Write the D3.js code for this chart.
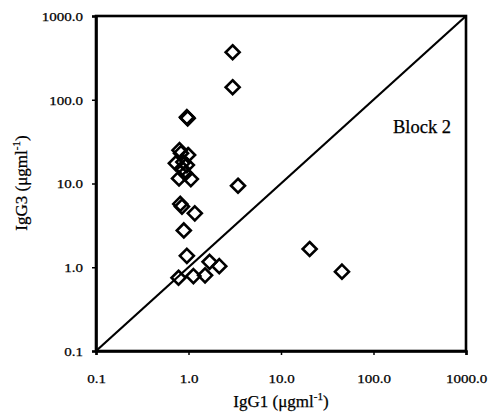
<!DOCTYPE html>
<html><head><meta charset="utf-8">
<script src="https://cdn.jsdelivr.net/npm/d3@7"></script>
<style>body{margin:0;background:#fff}svg text{font-family:"Liberation Serif","Times New Roman",serif;fill:#000;stroke:#000;stroke-width:0.25}</style>
</head><body><svg id="c" width="489" height="418"></svg>
<script>
const igg1 = [3.0, 3.0, 0.96, 0.98, 3.43, 20.4, 45.6, 1.17, 0.89, 0.96, 0.78, 1.13, 1.51, 1.69, 2.15, 0.815, 0.85,
              0.80, 0.83, 0.99, 0.73, 0.96, 0.85, 0.92, 0.79, 1.06, 0.88];
const igg3 = [369, 141, 62, 60, 9.4, 1.65, 0.885, 4.4, 2.75, 1.37, 0.75, 0.785, 0.80, 1.16, 1.03, 5.7, 5.3,
              25, 23, 21.9, 17.4, 16.6, 15.1, 13.2, 11.5, 11.3, 18];
const tickValues = [0.1, 1, 10, 100, 1000];
const tickLabels = ["0.1", "1.0", "10.0", "100.0", "1000.0"];
const yTickLabels = ["0.1", "1.0", "10.0", "100.0", "1000.0"];
const lineEnds = [0.1, 1000];

const svg = d3.select("#c");
const x = d3.scaleLog().domain([0.1, 1000]).range([96, 466]);
const y = d3.scaleLog().domain([0.1, 1000]).range([351, 16]);

// frame
svg.append("rect").attr("x", 96).attr("y", 16).attr("width", 370).attr("height", 335)
  .attr("fill", "none").attr("stroke", "#000").attr("stroke-width", 2.6);

// axes
const xa = svg.append("g").attr("transform", "translate(0,351)")
  .call(d3.axisBottom(x).tickValues(tickValues).tickSize(4).tickFormat((d, i) => tickLabels[i]));
const ya = svg.append("g").attr("transform", "translate(96,0)")
  .call(d3.axisLeft(y).tickValues(tickValues).tickSize(4).tickFormat((d, i) => yTickLabels[i]));
[xa, ya].forEach(a => {
  a.select(".domain").attr("stroke-width", 2.6);
  a.selectAll(".tick line").attr("stroke-width", 1.5);
  a.selectAll("text").attr("font-family", "Liberation Serif").attr("font-size", 12.5).attr("fill", "#000");
});
xa.selectAll(".tick text").attr("y", 0).attr("dy", 0).attr("transform", "translate(0,32)");
ya.selectAll(".tick text").attr("x", -13).attr("dy", "0.35em");
svg.selectAll(".tick text").each(function () {
  const w = this.getComputedTextLength();
  d3.select(this).attr("textLength", w * 1.2).attr("lengthAdjust", "spacingAndGlyphs");
});

// diagonal
svg.append("line")
  .attr("x1", x(lineEnds[0])).attr("y1", y(lineEnds[0]))
  .attr("x2", x(lineEnds[1])).attr("y2", y(lineEnds[1]))
  .attr("stroke", "#000").attr("stroke-width", 2.2);

// points
const pts = igg1.map((v, i) => [v, igg3[i]]);
const r = 7;
svg.append("g").selectAll("path").data(pts).join("path")
  .attr("d", d => `M${x(d[0])},${y(d[1]) - r}L${x(d[0]) + r},${y(d[1])}L${x(d[0])},${y(d[1]) + r}L${x(d[0]) - r},${y(d[1])}Z`)
  .attr("fill", "none").attr("stroke", "#000").attr("stroke-width", 2.6);

// label
svg.append("text").attr("x", 393).attr("y", 133).attr("font-size", 18.5).text("Block 2");

// axis titles
const xt = svg.append("text").attr("x", 281).attr("y", 407).attr("text-anchor", "middle").attr("font-size", 17);
xt.append("tspan").text("IgG1 (μgml");
xt.append("tspan").attr("font-size", 11).attr("dy", -7).text("-1");
xt.append("tspan").attr("dy", 7).text(")");

const yt = svg.append("text").attr("transform", "translate(27,183) rotate(-90)").attr("text-anchor", "middle").attr("font-size", 17);
yt.append("tspan").text("IgG3 (μgml");
yt.append("tspan").attr("font-size", 11).attr("dy", -7).text("-1");
yt.append("tspan").attr("dy", 7).text(")");
</script></body></html>
